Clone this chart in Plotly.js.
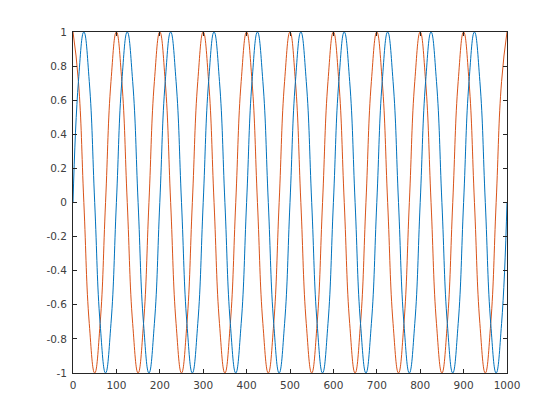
<!DOCTYPE html>
<html>
<head>
<meta charset="utf-8">
<script src="https://cdn.plot.ly/plotly-3.0.1.min.js"></script>
<style>html,body{margin:0;padding:0;background:#fff;}#chart{width:560px;height:420px;}</style>
</head>
<body>
<div id="chart"></div>
<script>
// Sample positions (every 1/8 of a cycle, cycle ~100)
const xSamples = [
  0,12.5,25,37.5,50,62.5,75,87.5,
  100,112.5,125,137.5,150,162.5,175,187.5,
  200,212.5,225,237.5,250,262.5,275,287.5,
  300,312.5,325,337.5,350,362.5,375,387.5,
  400,412.5,425,437.5,450,462.5,475,487.5,
  500,512.5,525,537.5,550,562.5,575,587.5,
  600,612.5,625,637.5,650,662.5,675,687.5,
  700,712.5,725,737.5,750,762.5,775,787.5,
  800,812.5,825,837.5,850,862.5,875,887.5,
  900,912.5,925,937.5,950,962.5,975,987.5,
  1000
];
// Orange series (peaks at 0,100,200,..., troughs at 50,150,...)
const orangeValues = [
  1,0.71,0,-0.71,-1,-0.71,0,0.71,
  1,0.71,0,-0.71,-1,-0.71,0,0.71,
  1,0.71,0,-0.71,-1,-0.71,0,0.71,
  1,0.71,0,-0.71,-1,-0.71,0,0.71,
  1,0.71,0,-0.71,-1,-0.71,0,0.71,
  1,0.71,0,-0.71,-1,-0.71,0,0.71,
  1,0.71,0,-0.71,-1,-0.71,0,0.71,
  1,0.71,0,-0.71,-1,-0.71,0,0.71,
  1,0.71,0,-0.71,-1,-0.71,0,0.71,
  1,0.71,0,-0.71,-1,-0.71,0,0.71,
  1
];
// Blue series (peaks at 25,125,..., troughs at 75,175,...)
const blueValues = [
  0,0.71,1,0.71,0,-0.71,-1,-0.71,
  0,0.71,1,0.71,0,-0.71,-1,-0.71,
  0,0.71,1,0.71,0,-0.71,-1,-0.71,
  0,0.71,1,0.71,0,-0.71,-1,-0.71,
  0,0.71,1,0.71,0,-0.71,-1,-0.71,
  0,0.71,1,0.71,0,-0.71,-1,-0.71,
  0,0.71,1,0.71,0,-0.71,-1,-0.71,
  0,0.71,1,0.71,0,-0.71,-1,-0.71,
  0,0.71,1,0.71,0,-0.71,-1,-0.71,
  0,0.71,1,0.71,0,-0.71,-1,-0.71,
  0
];
const xTickVals = [0,100,200,300,400,500,600,700,800,900,1000];
const xTickText = ['0','100','200','300','400','500','600','700','800','900','1000'];
const yTickVals = [-1,-0.8,-0.6,-0.4,-0.2,0,0.2,0.4,0.6,0.8,1];
const yTickText = ['-1','-0.8','-0.6','-0.4','-0.2','0','0.2','0.4','0.6','0.8','1'];

const traces = [
  {x: xSamples, y: orangeValues, type: 'scatter', mode: 'lines',
   line: {color: '#D95319', width: 1, shape: 'spline', smoothing: 1.3}, hoverinfo: 'skip'},
  {x: xSamples, y: blueValues, type: 'scatter', mode: 'lines',
   line: {color: '#0072BD', width: 1, shape: 'spline', smoothing: 1.3}, hoverinfo: 'skip'}
];

const axisCommon = {
  showgrid: false, zeroline: false,
  showline: true, linecolor: '#262626', linewidth: 1, mirror: 'ticks',
  ticks: 'inside', ticklen: 4, tickwidth: 1, tickcolor: '#262626',
  tickfont: {family: 'DejaVu Sans, sans-serif', size: 10.5, color: '#404040'},
  tickmode: 'array'
};

const layout = {
  width: 560, height: 420,
  margin: {l: 73, r: 53, t: 32, b: 47, pad: 0},
  paper_bgcolor: '#ffffff', plot_bgcolor: '#ffffff',
  showlegend: false,
  xaxis: Object.assign({}, axisCommon, {range: [0, 1000], tickvals: xTickVals, ticktext: xTickText, ticklabelstandoff: 2}),
  yaxis: Object.assign({}, axisCommon, {range: [-1, 1], tickvals: yTickVals, ticktext: yTickText, ticklabelstandoff: 3})
};

Plotly.newPlot('chart', traces, layout, {staticPlot: true, displayModeBar: false});
</script>
</body>
</html>
